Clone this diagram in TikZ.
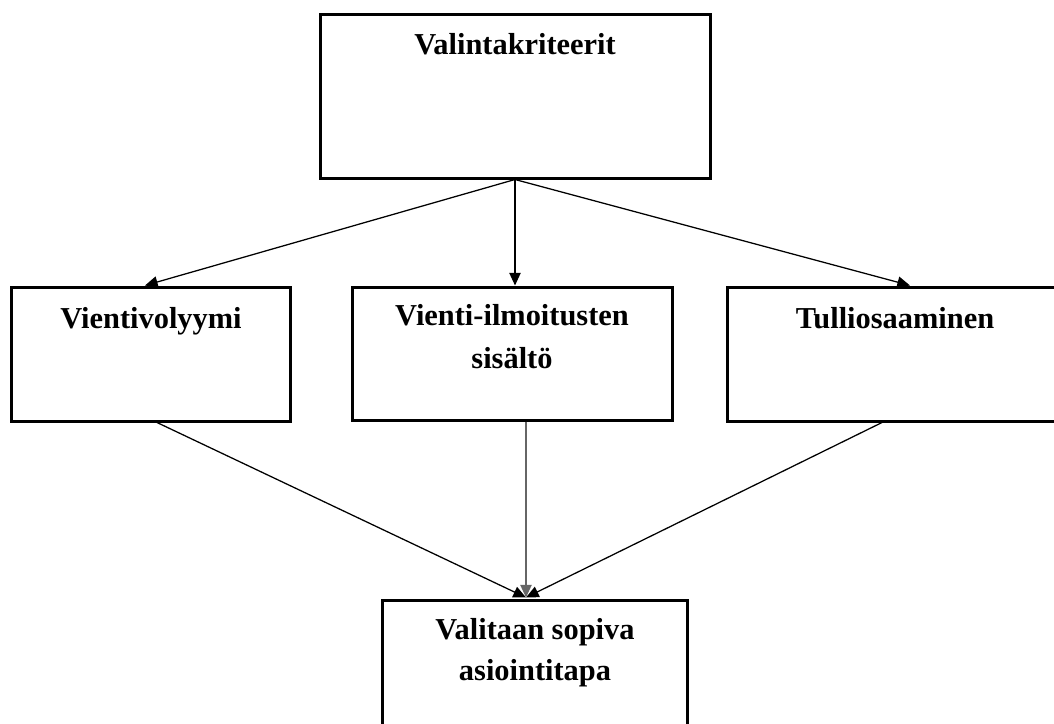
\documentclass[tikz,border=0pt]{standalone}
\usepackage{fontspec}
\setmainfont{Liberation Serif}
\usetikzlibrary{arrows.meta,fit,calc}

\tikzset{
  box/.style={draw=black, line width=2.25pt, inner sep=0pt, fill=white},
  lbl/.style={anchor=base, inner sep=0pt, font=\fontsize{22.8}{30}\selectfont\bfseries},
  link/.style={line width=0.95pt, -{Triangle[length=9.5pt,width=8.5pt]}},
}

\begin{document}
\begin{tikzpicture}[x=0.75pt, y=-0.75pt]
  \useasboundingbox (0,0) rectangle (1054,724);
  \clip (0,0) rectangle (1054,724);

  % boxes
  \node[box, fit={(320,15) (710,178)}] (top) {};
  \node[box, fit={(11,287) (290,421)}] (left) {};
  \node[box, fit={(352,287) (672,420)}] (mid) {};
  \node[box, fit={(727,287) (1093,421)}] (right) {};
  \node[box, fit={(382,600) (687,780)}] (goal) {};

  % labels
  \node[lbl] (t-top) at (515,55) {Valintakriteerit};
  \node[lbl] (t-left) at (151,328) {Vientivolyymi};
  \node[lbl] (t-mid1) at (512,325) {Vienti-ilmoitusten};
  \node[lbl] (t-mid2) at (512,368) {sisältö};
  \node[lbl] (t-right) at (895,328) {Tulliosaaminen};
  \node[lbl] (t-goal1) at (535,639) {Valitaan sopiva};
  \node[lbl] (t-goal2) at (535,680) {asiointitapa};

  % connectors
  \coordinate (join) at ($(goal.north)+(-8.5,-1)$);
  \draw[link] (top.south) -- ($(left.north)+(-5.5,0)$);
  \draw[link] (top.south) -- (mid.north -| top.south);
  \draw[link] (top.south) -- (right.north);
  \draw[link] ($(left.south)+(6.5,0)$) -- (join);
  \draw[link, draw=black!60] ($(mid.south)+(14,0)$) -- (join);
  \draw[link] ($(right.south)+(-28,0)$) -- (join);
\end{tikzpicture}
\end{document}
